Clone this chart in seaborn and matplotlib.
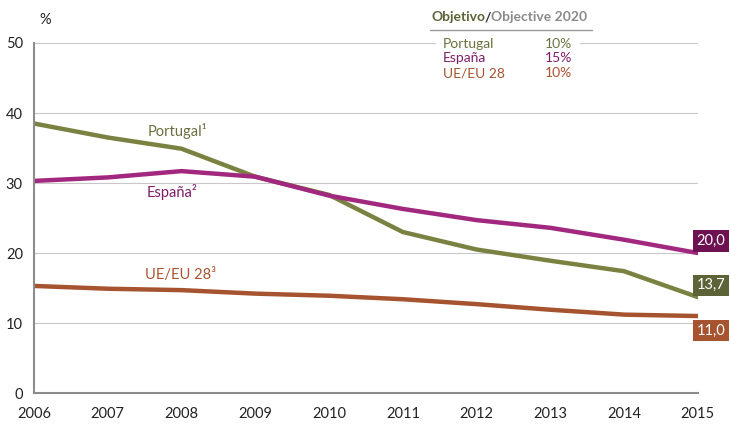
import seaborn as sns
import matplotlib.pyplot as plt
import pandas as pd

years = [2006, 2007, 2008, 2009, 2010, 2011, 2012, 2013, 2014, 2015]
portugal = [38.5, 36.5, 34.9, 30.9, 28.3, 23.0, 20.5, 18.9, 17.4, 13.7]
espana = [30.3, 30.8, 31.7, 30.9, 28.2, 26.3, 24.7, 23.6, 21.9, 20.0]
ue = [15.3, 14.9, 14.7, 14.2, 13.9, 13.4, 12.7, 11.9, 11.2, 11.0]

series_names = ['Portugal', 'España', 'UE/EU 28']
series_labels = ['Portugal¹', 'España²', 'UE/EU 28³']
end_labels = ['13,7', '20,0', '11,0']
targets = ['10%', '15%', '10%']

line_cols = ['#7b8241', '#a2287f', '#a65330']
box_cols = ['#5d6237', '#6d1153', '#a65330']
text_cols = ['#6b7040', '#7e1d66', '#a65330']

sns.set_theme(style='white')
plt.rcParams['font.family'] = ['Lato', 'DejaVu Sans']

df = pd.DataFrame({'year': years * 3,
                   'value': portugal + espana + ue,
                   'serie': sum([[n] * len(years) for n in series_names], [])})

fig = plt.figure(figsize=(7.3, 4.24), dpi=100)
ax = fig.add_axes([0.0466, 0.073, 0.9094, 0.8256])

sns.lineplot(data=df, x='year', y='value', hue='serie', palette=line_cols,
             linewidth=3.2, legend=False, ax=ax)

ax.set_xlim(2006, 2015)
ax.set_ylim(0, 50)
ax.set_xticks(years)
ax.set_yticks([0, 10, 20, 30, 40, 50])
ax.grid(axis='y', color='#c8c8c8', linewidth=0.8)
ax.set_axisbelow(True)
for s in ['top', 'right']:
    ax.spines[s].set_visible(False)
for s in ['left', 'bottom']:
    ax.spines[s].set_color('#8c8c8c')
    ax.spines[s].set_linewidth(1.5)
ax.tick_params(axis='both', labelsize=10.5, colors='#222222', length=0)
ax.tick_params(axis='x', pad=10)
ax.tick_params(axis='y', pad=8)
ax.set_xlabel('')
ax.set_ylabel('')

fig.text(45 / 730, 1 - 20 / 424, '%', fontsize=10.5, ha='center', va='center', color='#222222')

# series labels on the chart
ax.text(2007.94, 37.5, series_labels[0], color=text_cols[0], fontsize=10.5, ha='center', va='center')
ax.text(2007.87, 28.7, series_labels[1], color=text_cols[1], fontsize=10.5, ha='center', va='center')
ax.text(2007.98, 16.8, series_labels[2], color=text_cols[2], fontsize=10.5, ha='center', va='center')

# end value boxes
end_y = [15.4, 21.7, 8.9]
for lab, yv, c in zip(end_labels, end_y, box_cols):
    ax.text(2015.18, yv, lab, color='white', fontsize=10.5, ha='center', va='center',
            clip_on=False, bbox=dict(boxstyle='square,pad=0.25', fc=c, ec='none'))

# target box
fig.canvas.draw()
r = fig.canvas.get_renderer()
x0 = 432 / 730
ty = 1 - 17 / 424
for part, col in [('Objetivo', '#5d6237'), ('/', '#333333'), ('Objective 2020', '#8a8a8a')]:
    t = fig.text(x0, ty, part, fontsize=10, fontweight='bold', color=col, va='center')
    bb = t.get_window_extent(renderer=r)
    x0 += (bb.width - 1) / fig.bbox.width
fig.add_artist(plt.Line2D([430 / 730, 592 / 730], [1 - 30 / 424, 1 - 30 / 424],
                          color='#999999', linewidth=1))
for i, (n, t) in enumerate(zip(series_names, targets)):
    yy = 1 - (44 + i * 14.5) / 424
    fig.text(443 / 730, yy, n, fontsize=10, color=text_cols[i], va='center')
    fig.text(545 / 730, yy, t, fontsize=10, color=text_cols[i], va='center')
# cover gridline behind the legend
ax.add_patch(plt.Rectangle((2011.45, 48.5), 1.95, 3.0, fc='white', ec='none',
                           clip_on=False, zorder=2))

fig.savefig('out.png', dpi=100)
